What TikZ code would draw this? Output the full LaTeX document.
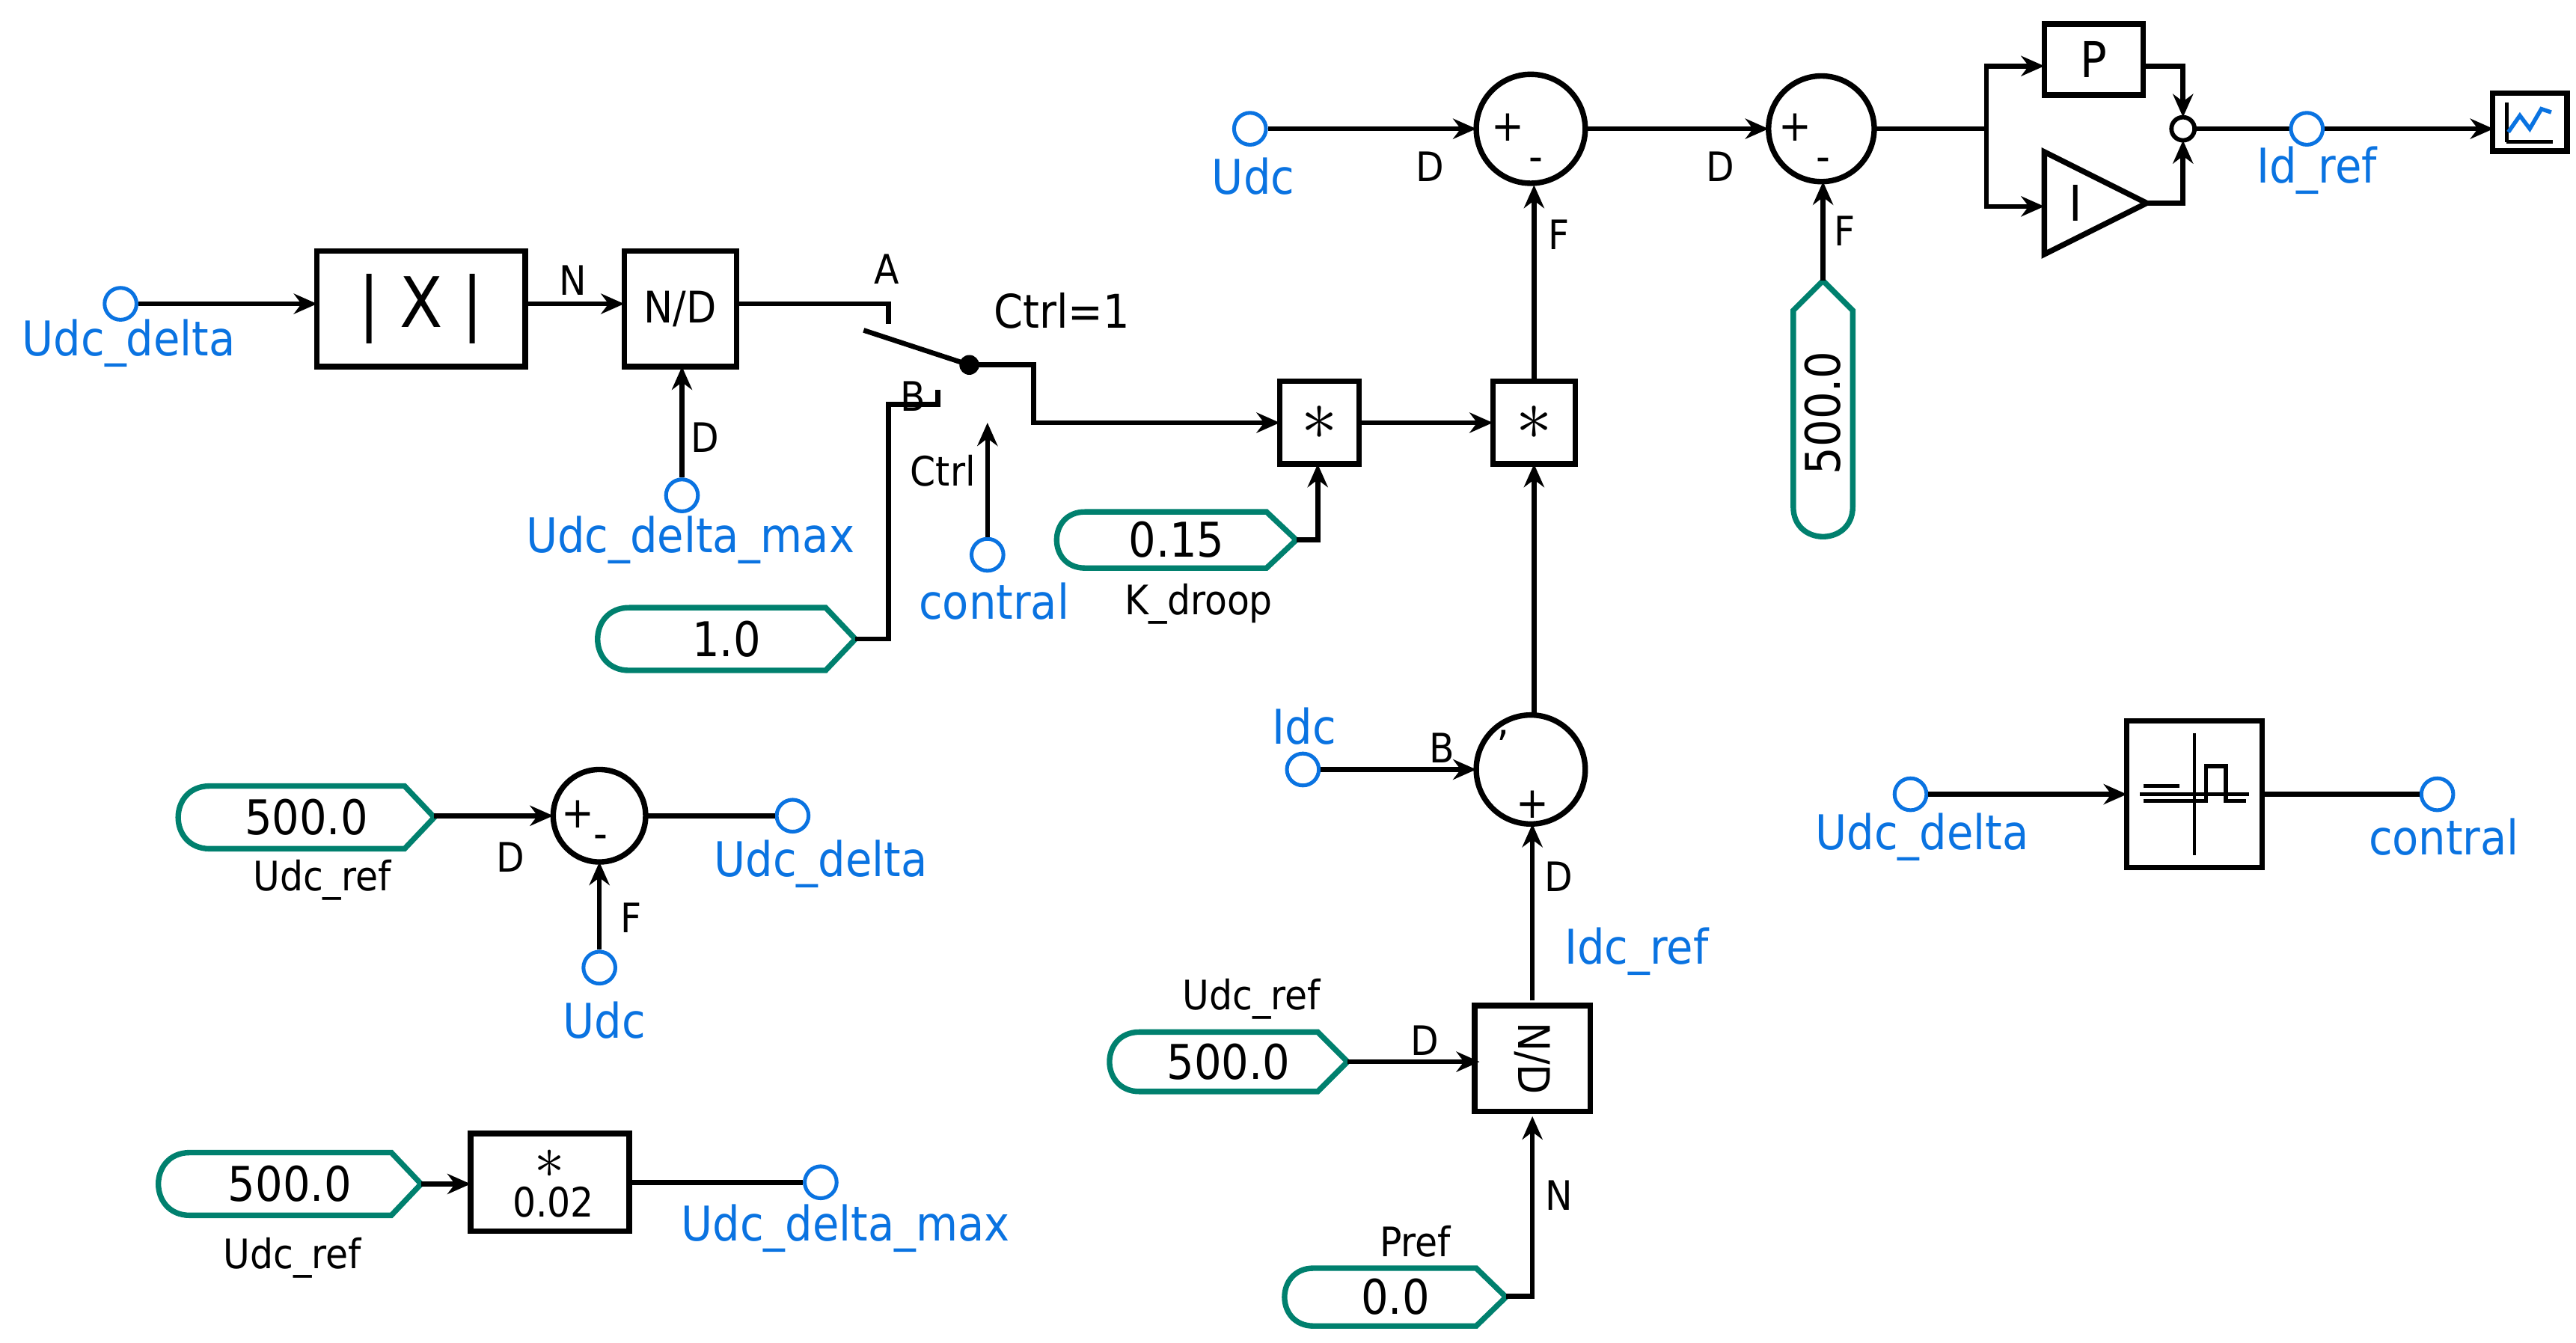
\documentclass[tikz,border=0pt]{standalone}
\usepackage{fontspec}
\setmainfont{DejaVu Sans Condensed}
\usetikzlibrary{arrows.meta}
\definecolor{tl}{RGB}{0,128,110}
\definecolor{bl}{RGB}{10,115,225}
\tikzset{
 w/.style={line width=1.7pt,line join=miter},
 a/.style={w,-{Stealth[length=8pt,width=7pt]}},
 box/.style={draw,line width=1.9pt,minimum width=#1},
 term/.style={draw=bl,line width=1.3pt,circle,inner sep=0pt,minimum size=11pt,fill=white},
 bt/.style={text=bl,font=\fontsize{16.5}{20}\selectfont,inner sep=0pt},
 kt/.style={font=\fontsize{14}{17}\selectfont,inner sep=0pt},
 sg/.style={font=\fontsize{15}{15}\selectfont,inner sep=0pt},
 cs/.style={draw=tl,line width=1.9pt},
 sm/.style={draw,circle,line width=1.9pt,minimum size=#1},
}
\newcommand\cst[6]{% name x1 x2 yt yb text
 \draw[cs] ({#2+(#5-#4)/2},#4) -- ({#3-18},#4) -- (#3,{(#4+#5)/2}) -- ({#3-18},#5) -- ({#2+(#5-#4)/2},#5)
   .. controls ({#2-(#5-#4)*0.17},#5) and ({#2-(#5-#4)*0.17},#4) .. cycle;
 \node[font=\fontsize{16.5}{20}\selectfont] (#1) at ({(#2+#3)/2},{(#4+#5)/2}) {#6};}
\begin{document}
\begin{tikzpicture}[x=0.02cm,y=-0.02cm]
\useasboundingbox (0,0) rectangle (1560,813);
% ---- top-left chain
\node[term] (t1) at (73,184) {};
\node[bt] at (78,208) {Udc\_delta};
\node[box=126*0.02cm,minimum height=70*0.02cm,inner sep=0pt,font=\fontsize{24}{26}\selectfont] (abs) at (255,187) {| X |};
\draw[a] (t1) -- (192,184);
\node[box=68*0.02cm,minimum height=70*0.02cm,font=\fontsize{15}{17}\selectfont,inner sep=0pt] (nd) at (412,187) {N/D};
\draw[a] (318,184) -- (378,184);
\node[kt] at (347,170) {N};
\node[term] (t2) at (413,300) {};
\draw[a] (t2) -- (413,222);
\node[kt] at (427,265) {D};
\node[bt] at (418,327) {Udc\_delta\_max};
% switch
\draw[w] (446,184) -- (538,184) -- (538,196);
\node[kt] at (537,163) {A};
\cst{c1}{362}{518}{368}{406}{1.0}
\draw[w] (518,387) -- (538,387) -- (538,245) -- (568,245) -- (568,236);
\node[kt] at (553,240) {B};
\draw[w] (523,200) -- (587,221);
\fill (587,221) circle (6);
\node[kt,font=\fontsize{16}{18}\selectfont] at (643,188) {Ctrl=1};
\node[box=48*0.02cm,minimum height=50*0.02cm,inner sep=0pt,font=\fontsize{24}{24}\selectfont] (m1) at (799,256) {$\ast$};
\draw[a] (587,221) -- (626,221) -- (626,256) -- (775,256);
\node[term] (t3) at (598,336) {};
\draw[a] (t3) -- (598,256);
\node[kt] at (571,285) {Ctrl};
\node[bt] at (602,364) {contral};
\cst{c2}{640}{785}{310}{344}{0.15}
\draw[a] (785,327) -- (798,327) -- (798,281);
\node[kt] at (726,366) {K\_droop};
\node[box=50*0.02cm,minimum height=50*0.02cm,inner sep=0pt,font=\fontsize{24}{24}\selectfont] (m2) at (929,256) {$\ast$};
\draw[a] (823,256) -- (904,256);
% sum1
\node[sm=66*0.02cm] (s1) at (927,78) {};
\node[sg] at (913,77) {+};
\node[sg] at (930,100) {-};
\draw[a] (929,231) -- (929,112);
\node[kt] at (944,142) {F};
\node[term] (t4) at (757,78) {};
\draw[a] (t4) -- (894,78);
\node[kt] at (866,101) {D};
\node[bt] at (759,107) {Udc};
% sum2
\node[sm=64*0.02cm] (s2) at (1103,78) {};
\node[sg] at (1087,77) {+};
\node[sg] at (1104,100) {-};
\draw[a] (960,78) -- (1071,78);
\node[kt] at (1042,101) {D};
\draw[cs] (1104,170) -- (1122,188) -- (1122,307) .. controls (1122,331) and (1086,331) .. (1086,307) -- (1086,188) -- cycle;
\node[rotate=90,font=\fontsize{16.5}{20}\selectfont] (c3) at (1104,250) {500.0};
\draw[a] (1104,170) -- (1104,110);
\node[kt] at (1117,140) {F};
% PI
\node[box=60*0.02cm,minimum height=43*0.02cm,inner sep=0pt,font=\fontsize{17}{17}\selectfont] (P) at (1268,36) {P};
\draw[line width=1.9pt] (1238,92) -- (1300,123) -- (1238,154) -- cycle;
\node[font=\fontsize{17}{17}\rmfamily\selectfont] (I) at (1257,123) {$\mathrm{I}$};
\draw[w] (1135,78) -- (1203,78);
\draw[a] (1203,78) -- (1203,40) -- (1238,40);
\draw[a] (1203,78) -- (1203,125) -- (1238,125);
\draw[line width=1.5pt] (1322,78) circle (7);
\draw[a] (1298,40) -- (1322,40) -- (1322,71);
\draw[a] (1300,123) -- (1322,123) -- (1322,85);
\draw[w] (1329,78) -- (1397,78);
\draw[a] (1397,78) -- (1510,78);
\node[term] (t5) at (1397,78) {};
\node[bt] at (1403,103) {Id\_ref};
\node[draw,line width=1.9pt,minimum width=45*0.02cm,minimum height=35*0.02cm] (sc) at (1532,74) {};
\draw[line width=1.2pt] (1518,86) -- (1518,62);
\draw[line width=1.2pt] (1518,86) -- (1546,86);
\draw[bl,line width=1.4pt] (1519,80) -- (1526,70) -- (1532,78) -- (1539,66) -- (1545,68);
% sum3
\node[sm=66*0.02cm] (s3) at (927,466) {};
\node[sg] at (910,452) {'};
\node[sg] at (928,487) {+};
\draw[a] (929,433) -- (929,281);
\node[term] (t6) at (789,466) {};
\draw[a] (t6) -- (894,466);
\node[kt] at (873,453) {B};
\node[bt] at (790,440) {Idc};
\node[box=64*0.02cm,minimum height=70*0.02cm,inner sep=0pt,rotate=-90,font=\fontsize{15}{17}\selectfont] (nd2) at (928,641) {N/D};
\draw[a] (928,606) -- (928,499);
\node[kt] at (944,531) {D};
\node[bt] at (991,576) {Idc\_ref};
\cst{c4}{672}{816}{625}{661}{500.0}
\draw[a] (816,643) -- (896,643);
\node[kt] at (863,630) {D};
\node[kt] at (758,605) {Udc\_ref};
\cst{c5}{778}{912}{768}{803}{0.0}
\draw[a] (912,785) -- (928,785) -- (928,676);
\node[kt] at (944,724) {N};
\node[kt] at (857,752) {Pref};
% sum4
\cst{c6}{108}{263}{476}{514}{500.0}
\node[sm=56*0.02cm] (s4) at (363,494) {};
\node[sg] at (350,493) {+};
\node[sg] at (364,510) {-};
\draw[a] (263,494) -- (335,494);
\node[kt] at (309,519) {D};
\node[kt] at (195,533) {Udc\_ref};
\node[term] (t7) at (363,586) {};
\draw[a] (t7) -- (363,522);
\node[kt] at (382,556) {F};
\node[bt] at (366,618) {Udc};
\node[term] (t8) at (480,494) {};
\draw[w] (391,494) -- (t8);
\node[bt] at (497,523) {Udc\_delta};
% gain
\cst{c7}{96}{255}{698}{736}{500.0}
\node[box=96*0.02cm,minimum height=59*0.02cm] (g) at (333,716) {};
\node[font=\fontsize{22}{22}\selectfont] at (333,705) {$\ast$};
\node[font=\fontsize{14}{14}\selectfont] at (335,728) {0.02};
\draw[a] (255,717) -- (285,717);
\node[term] (t9) at (497,716) {};
\draw[w] (381,716) -- (t9);
\node[bt] at (512,744) {Udc\_delta\_max};
\node[kt] at (177,762) {Udc\_ref};
% relay
\node[box=82*0.02cm,minimum height=89*0.02cm] (rl) at (1329,481) {};
\draw[line width=1.1pt] (1329,444) -- (1329,518);
\draw[line width=1.1pt] (1296,481) -- (1362,481);
\draw[line width=1.4pt] (1298,485) -- (1336,485) -- (1336,464) -- (1348,464) -- (1348,485) -- (1360,485);
\draw[line width=1.4pt] (1298,476) -- (1320,476);
\node[term] (t10) at (1157,481) {};
\draw[a] (t10) -- (1288,481);
\node[term] (t11) at (1476,481) {};
\draw[w] (1370,481) -- (t11);
\node[bt] at (1164,507) {Udc\_delta};
\node[bt] at (1480,507) {contral};
\end{tikzpicture}
\end{document}
